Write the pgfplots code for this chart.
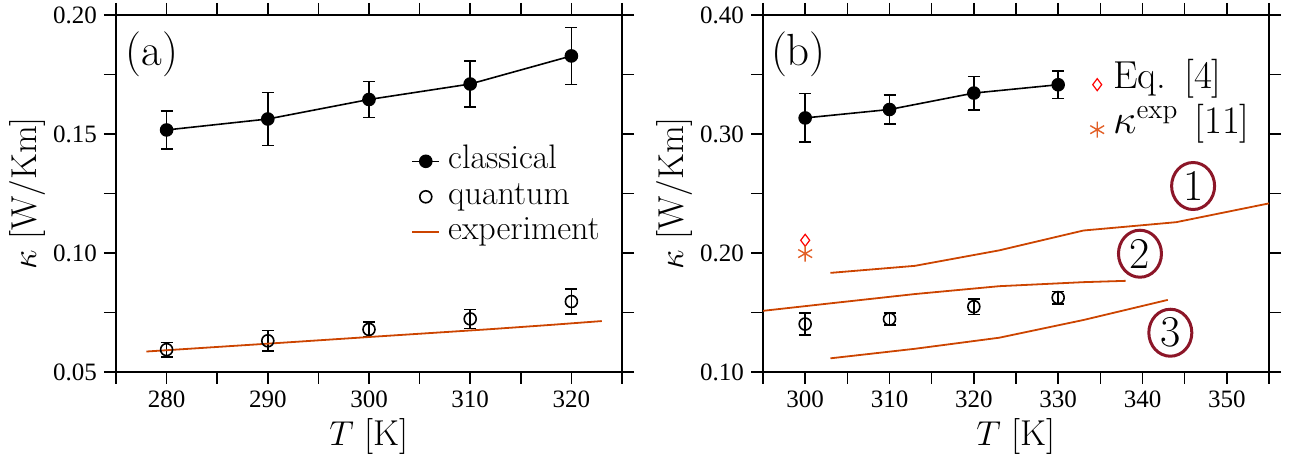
\documentclass[border=0pt]{standalone}
\usepackage{fontspec}
\usepackage{pgfplots}
\pgfplotsset{compat=1.18}
\usetikzlibrary{shapes.geometric}
\newfontfamily\tickfont{Liberation Serif}
\definecolor{expc}{RGB}{204,68,0}
\definecolor{starc}{RGB}{226,96,40}
\definecolor{circc}{RGB}{140,22,40}
\pgfplotsset{
  myaxis/.style={
    scale only axis, width=253pt, height=178.5pt,
    axis line style={line width=1pt},
    tick align=outside,
    major tick length=6pt, minor tick length=6pt,
    tick style={line width=0.8pt, black},
    tick label style={font=\tickfont\fontsize{12.5}{12.5}\selectfont},
    /pgf/number format/assume math mode=true,
    label style={font=\fontsize{18}{20}\selectfont},
    xlabel={$T$ [K]},
    ylabel={$\kappa$ [W/Km]},
    xlabel style={at={(axis description cs:0.5,-0.2045)}, anchor=base},
    ylabel style={at={(axis description cs:-0.158,0.5)}, anchor=base},
    yticklabel style={/pgf/number format/.cd, fixed, fixed zerofill, precision=2},
    error bars/error bar style={line width=0.8pt, black},
    error bars/error mark options={rotate=90, mark size=3pt, line width=0.8pt, black},
  }
}
\begin{document}
\begin{tikzpicture}
\path[use as bounding box] (-58pt,-43.5pt) rectangle (591.5pt,186pt);
% ---------------- panel (a)
\begin{axis}[myaxis, at={(0pt,0pt)}, anchor=south west,
  xmin=275, xmax=325, ymin=0.05, ymax=0.20,
  xtick={280,290,300,310,320}, minor xtick={275,285,295,305,315,325},
  ytick={0.05,0.10,0.15,0.20}, minor ytick={0.075,0.125,0.175},
  legend style={draw=none, fill=none, inner sep=0pt,
    font=\fontsize{17}{19}\selectfont,
    at={(rel axis cs:0.583,0.641)}, anchor=north west,
    nodes={inner sep=0pt, text height=12.5pt, text depth=5.25pt},
    /tikz/every odd column/.append style={column sep=4pt}},
  legend cell align=left,
  legend image code/.code={\draw[mark repeat=2,mark phase=2,#1] plot coordinates {(0pt,0pt)(6.75pt,0pt)(13.5pt,0pt)};}
]
\addplot[black, line width=0.8pt, mark=*, mark size=3pt,
  error bars/.cd, y dir=both, y explicit] coordinates {
  (280,0.1517) +- (0,0.0079)
  (290,0.1563) +- (0,0.0112)
  (300,0.1645) +- (0,0.0076)
  (310,0.1710) +- (0,0.0097)
  (320,0.1828) +- (0,0.0120)
};
\addlegendentry{classical}
\addplot[black, only marks, mark=o, mark size=3pt, mark options={line width=0.8pt},
  error bars/.cd, y dir=both, y explicit] coordinates {
  (280,0.0594) +- (0,0.0030)
  (290,0.0631) +- (0,0.0044)
  (300,0.0679) +- (0,0.0030)
  (310,0.0723) +- (0,0.0040)
  (320,0.0796) +- (0,0.0052)
};
\addlegendentry{quantum}
\addplot[expc, line width=0.9pt] coordinates {
  (278,0.0586) (290,0.0619) (300,0.0647) (312,0.0680) (318,0.0698) (323,0.0714)
};
\addlegendentry{experiment}
\node at (rel axis cs:0.071,0.891) {\fontsize{22.5}{22.5}\selectfont (a)};
\end{axis}
% ---------------- panel (b)
\begin{axis}[myaxis, at={(323.5pt,0pt)}, anchor=south west,
  xmin=295, xmax=355, ymin=0.10, ymax=0.40,
  xtick={300,310,320,330,340,350}, minor xtick={295,305,315,325,335,345,355},
  ytick={0.10,0.20,0.30,0.40}, minor ytick={0.15,0.25,0.35},
  legend style={draw=none, fill=none, inner sep=0pt,
    font=\fontsize{19.5}{21}\selectfont,
    at={(rel axis cs:0.646,0.869)}, anchor=north west,
    nodes={inner sep=0pt, text height=13pt, text depth=9.5pt},
    /tikz/every odd column/.append style={column sep=4.5pt}},
  legend cell align=left,
  legend image code/.code={\draw[mark repeat=2,mark phase=2,#1] plot coordinates {(0pt,0pt)(5pt,0pt)(10pt,0pt)};}
]
\addplot[red, only marks, mark=diamond, mark size=3pt, mark options={line width=0.6pt}] coordinates {(300,0.2107)};
\addlegendentry{Eq.\hspace{9pt}[4]}
\addplot[starc, only marks, mark=asterisk, mark size=4pt, mark options={line width=0.7pt}] coordinates {(300,0.1995)};
\addlegendentry{$\kappa^{\mathrm{exp}}$\hspace{8pt}[11]}
\addplot[black, line width=0.8pt, mark=*, mark size=3pt, forget plot,
  error bars/.cd, y dir=both, y explicit] coordinates {
  (300,0.3135) +- (0,0.0204)
  (310,0.3206) +- (0,0.0120)
  (320,0.3344) +- (0,0.0140)
  (330,0.3414) +- (0,0.0115)
};
\addplot[black, only marks, mark=o, mark size=3pt, mark options={line width=0.8pt}, forget plot,
  error bars/.cd, y dir=both, y explicit] coordinates {
  (300,0.1403) +- (0,0.0092)
  (310,0.1445) +- (0,0.0050)
  (320,0.1549) +- (0,0.0065)
  (330,0.1625) +- (0,0.0052)
};
\addplot[expc, line width=0.9pt, forget plot] coordinates {
  (303,0.1833) (313,0.1892) (323,0.2022) (333,0.2189) (344,0.2259) (355,0.2417)
};
\addplot[expc, line width=0.9pt, forget plot] coordinates {
  (295,0.1514) (303,0.1577) (313,0.1655) (323,0.1721) (333,0.1755) (338,0.1766)
};
\addplot[expc, line width=0.9pt, forget plot] coordinates {
  (303,0.1115) (313,0.1195) (323,0.1288) (333,0.1437) (343,0.1606)
};
\node at (rel axis cs:0.070,0.891) {\fontsize{22.5}{22.5}\selectfont (b)};
\node[draw=circc, line width=1.5pt, ellipse, minimum width=21.5pt, minimum height=23.5pt, inner sep=0pt]
  at (axis cs:346.0,0.2563) {\fontsize{22}{22}\selectfont 1};
\node[draw=circc, line width=1.5pt, ellipse, minimum width=21.5pt, minimum height=23.5pt, inner sep=0pt]
  at (axis cs:339.7,0.1994) {\fontsize{22}{22}\selectfont 2};
\node[draw=circc, line width=1.5pt, ellipse, minimum width=21.5pt, minimum height=23.5pt, inner sep=0pt]
  at (axis cs:343.3,0.1330) {\fontsize{22}{22}\selectfont 3};
\end{axis}
\end{tikzpicture}
\end{document}
